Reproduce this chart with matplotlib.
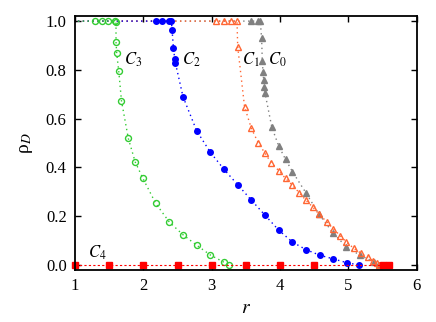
import numpy as np
import matplotlib
matplotlib.use("Agg")
import matplotlib.pyplot as plt

plt.rcParams['font.family'] = ['Liberation Serif', 'DejaVu Serif']
plt.rcParams['mathtext.fontset'] = 'stix'

# C0 (gray, filled triangles)
c0_x = [0.9, 3.58, 3.67, 3.71, 3.73, 3.74, 3.75, 3.76, 3.77, 3.78, 3.88, 3.98,
        4.08, 4.18, 4.38, 4.57, 4.77, 4.97, 5.17, 5.37, 5.45]
c0_y = [1.0, 1.0, 1.0, 1.0, 0.929, 0.836, 0.792, 0.758, 0.728, 0.704, 0.564, 0.488,
        0.433, 0.383, 0.295, 0.208, 0.133, 0.074, 0.040, 0.012, 0.0]
# C1 (orange, open triangles)
c1_x = [0.9, 3.06, 3.18, 3.28, 3.37, 3.38, 3.48, 3.58, 3.68, 3.78, 3.87, 3.98,
        4.08, 4.18, 4.28, 4.38, 4.48, 4.57, 4.68, 4.78, 4.88, 4.97, 5.08,
        5.18, 5.28, 5.36, 5.42, 5.45]
c1_y = [1.0, 1.0, 1.0, 1.0, 1.0, 0.895, 0.649, 0.560, 0.501, 0.458, 0.419, 0.387,
        0.355, 0.327, 0.296, 0.265, 0.237, 0.208, 0.178, 0.148, 0.120, 0.094,
        0.068, 0.049, 0.033, 0.016, 0.007, 0.0]
# C2 (blue, filled circles)
c2_x = [0.9, 2.18, 2.28, 2.38, 2.41, 2.42, 2.44, 2.46, 2.47, 2.58, 2.78, 2.98,
        3.18, 3.38, 3.58, 3.78, 3.98, 4.18, 4.38, 4.58, 4.78, 4.98, 5.16]
c2_y = [1.0, 1.0, 1.0, 1.0, 1.0, 0.964, 0.889, 0.844, 0.827, 0.690, 0.550, 0.462,
        0.392, 0.329, 0.266, 0.204, 0.143, 0.094, 0.063, 0.040, 0.025, 0.009, 0.0]
# C3 (green, open circles)
c3_x = [0.9, 1.29, 1.39, 1.48, 1.58, 1.60, 1.60, 1.61, 1.64, 1.68, 1.78, 1.88,
        1.99, 2.18, 2.38, 2.58, 2.78, 2.98, 3.18, 3.26]
c3_y = [1.0, 1.0, 1.0, 1.0, 1.0, 0.995, 0.915, 0.868, 0.795, 0.673, 0.519, 0.423,
        0.357, 0.253, 0.176, 0.124, 0.081, 0.041, 0.011, 0.0]
# C4 (red, squares)
c4_x = [1.0, 1.5, 2.0, 2.5, 3.0, 3.5, 4.0, 4.5, 5.5, 5.6]
c4_y = [0.0, 0.0, 0.0, 0.0, 0.0, 0.0, 0.0, 0.0, 0.0, 0.0]

fig = plt.figure(figsize=(4.36, 3.22), dpi=100)
ax = fig.add_axes([0.172, 0.1615, 0.784, 0.7885])

dots = (0, (1, 2.5))
ax.plot(c0_x, c0_y, color="#808080", ls=dots, lw=1, marker="^", ms=4,
        mfc="#808080", mec="#808080")
ax.plot(c1_x, c1_y, color="#ff6633", ls=dots, lw=1, marker="^", ms=4.3,
        mfc="none", mec="#ff6633", mew=1)
ax.plot(c2_x, c2_y, color="#0000ff", ls=dots, lw=1, marker="o", ms=4,
        mfc="#0000ff", mec="#0000ff")
ax.plot(c3_x, c3_y, color="#33cc33", ls=dots, lw=1, marker="o", ms=4.3,
        mfc="none", mec="#33cc33", mew=1)
ax.plot(c4_x, c4_y, color="#ff0000", ls=(0, (2, 2)), lw=0.8, marker="s", ms=4,
        mfc="#ff0000", mec="#ff0000", clip_on=False)

# 曲线标注
ax.text(1.71, 0.84, r"$C_3$", fontsize=12, va="center")
ax.text(2.57, 0.84, r"$C_2$", fontsize=12, va="center")
ax.text(3.44, 0.84, r"$C_1$", fontsize=12, va="center")
ax.text(3.83, 0.84, r"$C_0$", fontsize=12, va="center")
ax.text(1.19, 0.048, r"$C_4$", fontsize=12, va="center")

ax.set_xlim(1, 6)
ax.set_ylim(-0.0205, 1.0205)
ax.set_xticks([1, 2, 3, 4, 5, 6])
ax.set_yticks([0.0, 0.2, 0.4, 0.6, 0.8, 1.0])
ax.set_yticklabels(["0.0", "0.2", "0.4", "0.6", "0.8", "1.0"])
ax.tick_params(direction="in", top=True, right=True, labelsize=12, length=4,
               width=1, pad=6)
for sp in ax.spines.values():
    sp.set_linewidth(1.3)

ax.set_xlabel(r"$r$", fontsize=14, labelpad=4)
ax.set_ylabel(r"ρ$_D$", fontsize=14, labelpad=8)

plt.savefig("out.png", dpi=100)
